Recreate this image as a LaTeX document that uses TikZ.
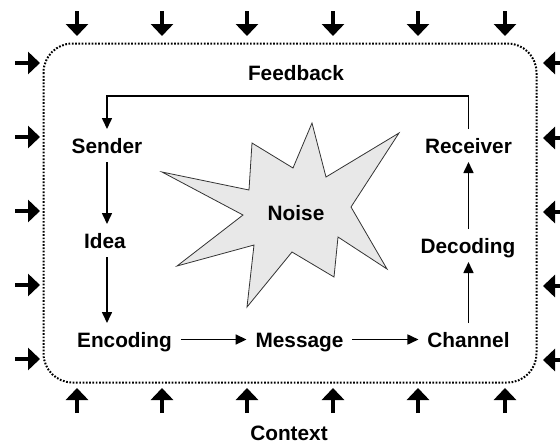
\documentclass[tikz,border=0pt]{standalone}
\usepackage{fontspec}
\setmainfont{Liberation Sans}
\usetikzlibrary{arrows.meta}

\begin{document}
\begin{tikzpicture}[x=1pt,y=-1pt,
  lbl/.style={font=\fontsize{20.8}{24}\selectfont\bfseries, inner sep=0pt,
              outer sep=9pt, text height=15pt, text depth=0pt},
  flow/.style={line width=1.6pt, -{Triangle[length=11pt,width=10pt]}},
  influence/.style={line width=4pt, -{Triangle[length=12pt,width=22pt]}},
  frame/.style={line width=2pt, dash pattern=on 1.7pt off 1.6pt,
                rounded corners=29pt},
  burst/.style={fill=black!9, draw=black!80, line width=0.8pt, line join=miter}]
\useasboundingbox (0,0) rectangle (560,445);

% surrounding context boundary
\draw[frame] (43.5,43.5) rectangle (536.5,382.5);

% influences pressing in from the context
\foreach \x in {77,162,247,333,418,505} {
  \draw[influence] (\x,11) -- (\x,36);
  \draw[influence] (\x,413) -- (\x,388);
}
\foreach \y in {63,137,211,285,359} {
  \draw[influence] (15,\y) -- (40,\y);
}
\foreach \y in {63,138,212,286,360} {
  \draw[influence] (568,\y) -- (543,\y);
}

% noise burst
\draw[burst] (162,172) -- (249,190) -- (252,143) -- (293,168) -- (312,123)
  -- (326,177) -- (399,133) -- (351,207) -- (387,269) -- (338,237)
  -- (334,277) -- (292,252) -- (247,307) -- (254,245) -- (177,266)
  -- (243,215) -- cycle;
\node[lbl] (noise) at (296,212.5) {Noise};

% stages of the communication process
\node[lbl] (snd) at (107,145.5) {Sender};
\node[lbl] (idea) at (105,240.5) {Idea};
\node[lbl] (enc) at (124.5,339.5) {Encoding};
\node[lbl] (msg) at (299.5,339.5) {Message};
\node[lbl] (chn) at (468.5,339.5) {Channel};
\node[lbl] (dec) at (468,245.5) {Decoding};
\node[lbl] (rcv) at (468.5,145.5) {Receiver};
\node[lbl] (fbk) at (296,73) {Feedback};
\node[lbl] (ctx) at (289,433) {Context};

\coordinate (fbline) at (0,96);

\draw[flow] (snd.south) -- (snd.south |- idea.north);
\draw[flow] (snd.south |- idea.south) -- (snd.south |- enc.north);
\draw[flow] (enc.east) -- (msg.west);
\draw[flow] (msg.east) -- (chn.west);
\draw[flow] (chn.north) -- (chn.north |- dec.south);
\draw[flow] (chn.north |- dec.north) -- (chn.north |- rcv.south);
\draw[flow] (rcv.north) -- (rcv.north |- fbline) -- (snd.north |- fbline)
  -- (snd.north);
\end{tikzpicture}
\end{document}
